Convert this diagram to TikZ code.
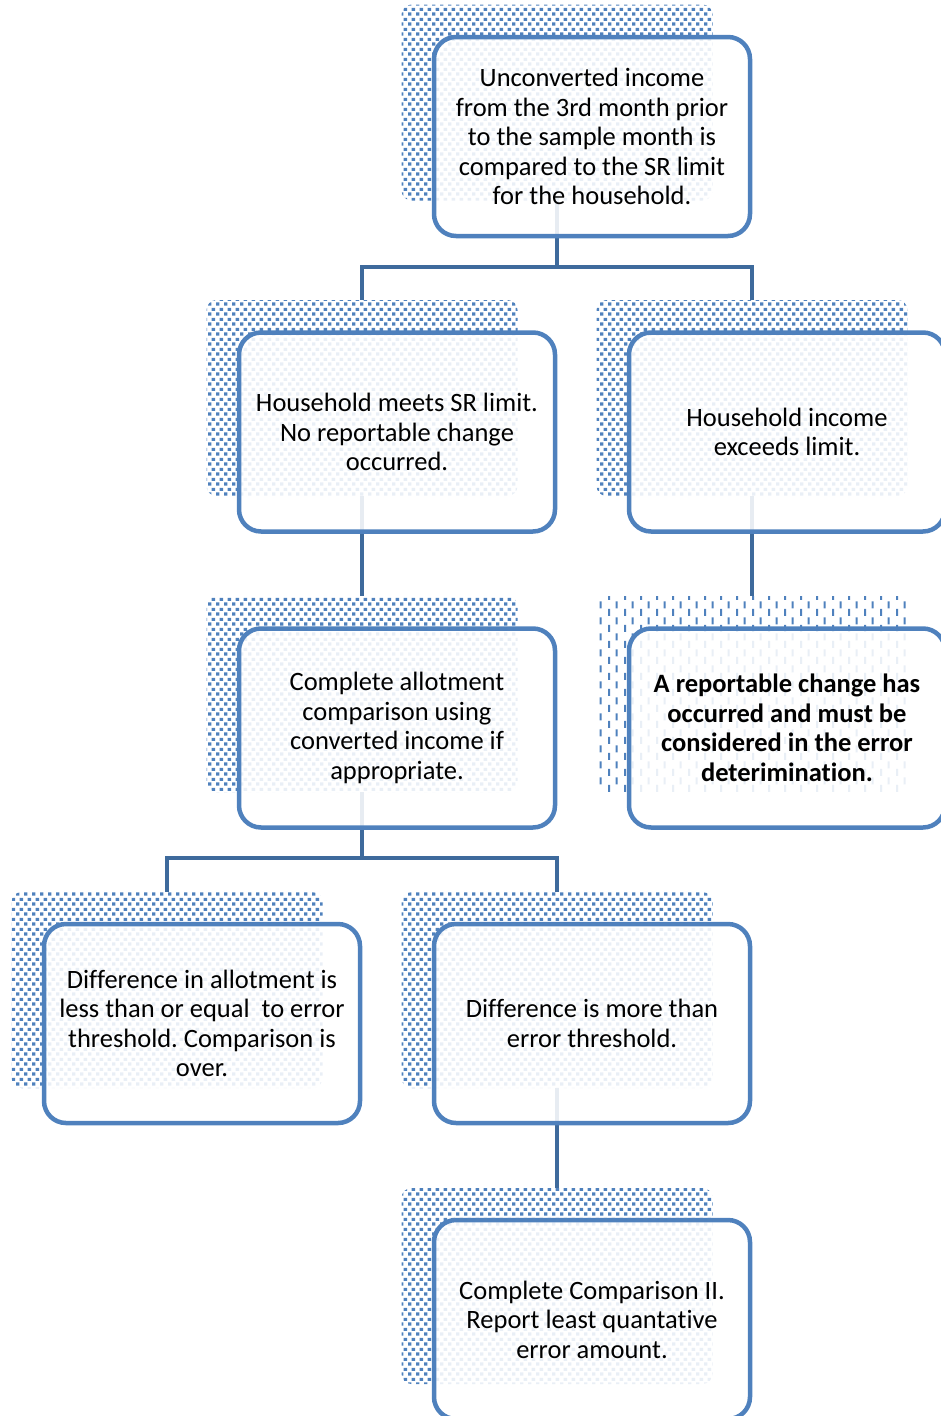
\documentclass[tikz,border=0pt]{standalone}
\usepackage{fontspec}
\setmainfont[Ligatures=NoCommon]{Carlito}
\usetikzlibrary{patterns,positioning}
\frenchspacing
\definecolor{boxblue}{RGB}{79,129,189}
\definecolor{connblue}{RGB}{62,106,156}
\pgfdeclarepatternformonly{smallchecker}{\pgfpointorigin}{\pgfpoint{8pt}{10pt}}{\pgfpoint{8pt}{10pt}}{%
  \pgfpathrectangle{\pgfpoint{0.2pt}{0.5pt}}{\pgfpoint{3.7pt}{3.4pt}}%
  \pgfpathrectangle{\pgfpoint{4.2pt}{5.5pt}}{\pgfpoint{3.7pt}{3.4pt}}%
  \pgfusepath{fill}}
\pgfdeclarepatternformonly{vdashes}{\pgfpointorigin}{\pgfpoint{16pt}{16pt}}{\pgfpoint{16pt}{16pt}}{%
  \pgfpathrectangle{\pgfpoint{0pt}{0pt}}{\pgfpoint{2.2pt}{7.5pt}}%
  \pgfpathrectangle{\pgfpoint{8pt}{8pt}}{\pgfpoint{2.2pt}{7.5pt}}%
  \pgfusepath{fill}}
\tikzset{
  shadowbox/.style={draw=none, pattern=smallchecker, pattern color=boxblue,
    rounded corners=10pt, minimum width=311pt, minimum height=196pt, inner sep=0pt},
  dashshadow/.style={shadowbox, pattern=vdashes},
  frontbox/.style={draw=boxblue, line width=4.5pt, fill=white, fill opacity=0.88,
    text opacity=1, rounded corners=22pt, minimum width=316pt, minimum height=199pt,
    inner sep=0pt, align=center, font=\fontsize{26.5}{29.5}\selectfont},
  conn/.style={draw=connblue, line width=4.5pt}
}
\begin{document}
\begin{tikzpicture}[x=1pt,y=-1pt]
\useasboundingbox (0,0) rectangle (940,1416);
% shadows
\node[shadowbox] (s1) at (557,102.5) {};
\node[shadowbox] (s2) at (362,398) {};
\node[shadowbox] (s3) at (752,398) {};
\node[shadowbox] (s4) at (362,694) {};
\node[dashshadow] (s5) at (752,694) {};
\node[shadowbox] (s6) at (167,990) {};
\node[shadowbox] (s7) at (557,990) {};
\node[shadowbox] (s8) at (557,1286) {};
% junctions
\coordinate (j1) at (557,267);
\coordinate (j4) at (362,858);
% connectors
\draw[conn] (s1.south) -- (j1) -| (s2.north);
\draw[conn] (j1) -| (s3.north);
\draw[conn] (s2.south) -- (s4.north);
\draw[conn] (s3.south) -- (s5.north);
\draw[conn] (s4.south) -- (j4) -| (s6.north);
\draw[conn] (j4) -| (s7.north);
\draw[conn] (s7.south) -- (s8.north);
% front boxes
\node[frontbox] (b1) at (592,136.5) {Unconverted income\\from the 3rd month prior\\to the sample month is\\compared to the SR limit\\for the household.};
\node[frontbox] (b2) at (397,432) {Household meets SR limit.\\No reportable change\\occurred.};
\node[frontbox] (b3) at (787,432) {Household income\\exceeds limit.};
\node[frontbox] (b4) at (397,728) {Complete allotment\\comparison using\\converted income if\\appropriate.};
\node[frontbox, font=\fontsize{26.5}{29.5}\selectfont\bfseries] (b5) at (787,728) {A reportable change has\\occurred and must be\\considered in the error\\deterimination.};
\node[frontbox] (b6) at (202,1023.5) {Difference in allotment is\\less than or equal\ \ to error\\threshold. Comparison is\\over.};
\node[frontbox] (b7) at (592,1023.5) {Difference is more than\\error threshold.};
\node[frontbox] (b8) at (592,1319.5) {Complete Comparison II.\\Report least quantative\\error amount.};
\end{tikzpicture}
\end{document}
